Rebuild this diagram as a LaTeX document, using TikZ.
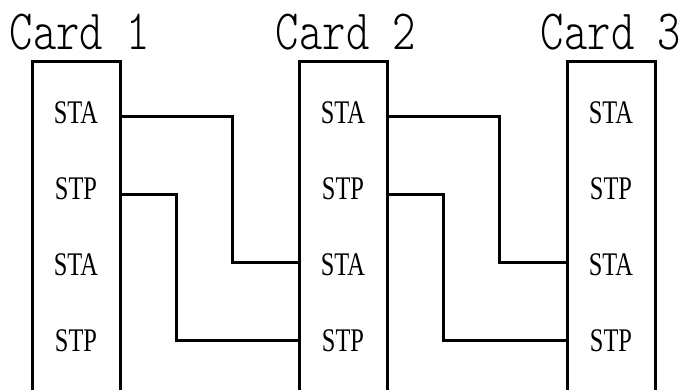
\documentclass[tikz,border=0pt]{standalone}
\usepackage{fontspec}
\newfontfamily\cardfont[FakeStretch=0.78]{lmmonolt10-regular.otf}
\newfontfamily\portfont[FakeStretch=0.74]{Liberation Serif}
\begin{document}
\begin{tikzpicture}[x=1pt,y=-1pt,
  wire/.style={line width=3pt,line join=miter,line cap=rect},
  cardlbl/.style={font=\cardfont\fontsize{57}{57}\selectfont,inner sep=0pt,anchor=base},
  portlbl/.style={font=\portfont\fontsize{33}{33}\selectfont,inner sep=0pt}]
\useasboundingbox (0,0) rectangle (683,390);
\begin{scope}
\clip (0,0) rectangle (683,390);
% cards (open at the bottom)
\foreach \l/\r/\n/\dx in {32/120/1/4,299/387/2/3,567/655/3/0}{
  \draw[wire] (\l,395) -- (\l,62) -- (\r,62) -- (\r,395);
  \node[cardlbl] (card\n) at ({(\l+\r)/2+\dx},50) {Card \n};
  \node[portlbl] (sta\n a) at ({(\l+\r)/2},113) {STA};
  \node[portlbl] (stp\n a) at ({(\l+\r)/2},189) {STP};
  \node[portlbl] (sta\n b) at ({(\l+\r)/2},265) {STA};
  \node[portlbl] (stp\n b) at ({(\l+\r)/2},341) {STP};
  \coordinate (r\n a) at (\r,117);
  \coordinate (r\n p) at (\r,195);
  \coordinate (l\n b) at (\l,263);
  \coordinate (l\n q) at (\l,340);
}
\end{scope}
% connectors
\draw[wire,line cap=butt] (r1a) -- ++(112,0) |- (l2b);
\draw[wire,line cap=butt] (r1p) -- ++(56,0) |- (l2q);
\draw[wire,line cap=butt] (r2a) -- ++(112,0) |- (l3b);
\draw[wire,line cap=butt] (r2p) -- ++(56,0) |- (l3q);
\end{tikzpicture}
\end{document}
